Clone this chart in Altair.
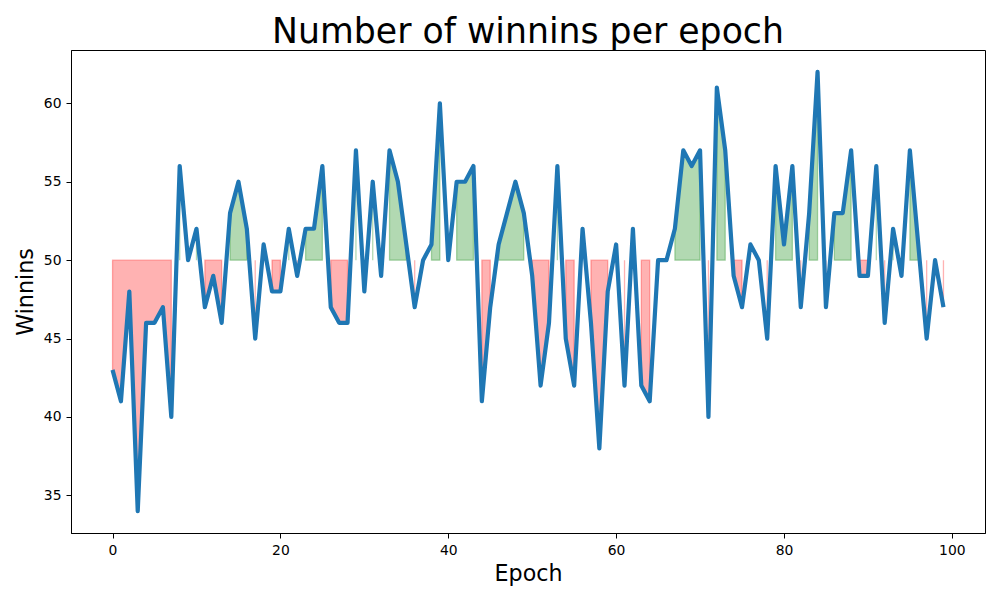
import altair as alt
import pandas as pd

epochs = list(range(100))
winnins = [43, 41, 48, 34, 46, 46, 47, 40, 56, 50,
           52, 47, 49, 46, 53, 55, 52, 45, 51, 48,
           48, 52, 49, 52, 52, 56, 47, 46, 46, 57,
           48, 55, 49, 57, 55, 51, 47, 50, 51, 60,
           50, 55, 55, 56, 41, 47, 51, 53, 55, 53,
           49, 42, 46, 56, 45, 42, 52, 46, 38, 48,
           51, 42, 52, 42, 41, 50, 50, 52, 57, 56,
           57, 40, 61, 57, 49, 47, 51, 50, 45, 56,
           51, 56, 47, 53, 62, 47, 53, 53, 57, 49,
           49, 56, 46, 52, 49, 57, 51, 45, 50, 47]
threshold = 50

df = pd.DataFrame({"epoch": epochs, "win": winnins})
df["base"] = threshold


def run_groups(mask):
    out, g, prev = [], -1, False
    for m in mask:
        if m and not prev:
            g += 1
        out.append(g if m else -1)
        prev = m
    return out


df["below_grp"] = run_groups(list(df["win"] < threshold))
df["above_grp"] = run_groups(list(df["win"] > threshold))
below = df[df["below_grp"] >= 0]
above = df[df["above_grp"] >= 0]

xs = alt.Scale(domain=[-4.95, 103.95], nice=False, zero=False)
ys = alt.Scale(domain=[32.6, 63.4], nice=False, zero=False)

xenc = alt.X("epoch:Q", scale=xs, title="Epoch",
             axis=alt.Axis(values=[0, 20, 40, 60, 80, 100], format="d"))
yenc = alt.Y("win:Q", scale=ys, title="Winnins",
             axis=alt.Axis(values=[35, 40, 45, 50, 55, 60], format="d"))

red = alt.Chart(below).mark_area(
    fill="red", fillOpacity=0.3, stroke="red", strokeOpacity=0.3, strokeWidth=1.3
).encode(x=xenc, y=yenc, y2="base:Q", detail="below_grp:N")

green = alt.Chart(above).mark_area(
    fill="green", fillOpacity=0.3, stroke="green", strokeOpacity=0.3, strokeWidth=1.3
).encode(x=xenc, y=yenc, y2="base:Q", detail="above_grp:N")

line = alt.Chart(df).mark_line(
    color="#1f77b4", strokeWidth=4.2, strokeJoin="round"
).encode(x=xenc, y=yenc)

chart = alt.layer(red, green, line).properties(
    width=914, height=483,
    title=alt.TitleParams("Number of winnins per epoch", fontSize=34.7,
                          fontWeight="normal", font="DejaVu Sans",
                          anchor="middle", offset=-1, color="black"),
    autosize=alt.AutoSizeParams(type="none"),
    padding={"left": 63, "top": 42, "right": 7, "bottom": 59},
).configure_view(
    stroke="black", strokeWidth=1
).configure_axis(
    grid=False, labelFont="DejaVu Sans", labelFontSize=13.9, labelColor="black",
    titleFont="DejaVu Sans", titleFontSize=22.2, titleFontWeight="normal",
    titleColor="black", tickColor="black", domainColor="black",
    tickSize=5, labelPadding=5, titlePadding=6
)

chart.save("out.html", embed_options={"renderer": "svg", "actions": False})
